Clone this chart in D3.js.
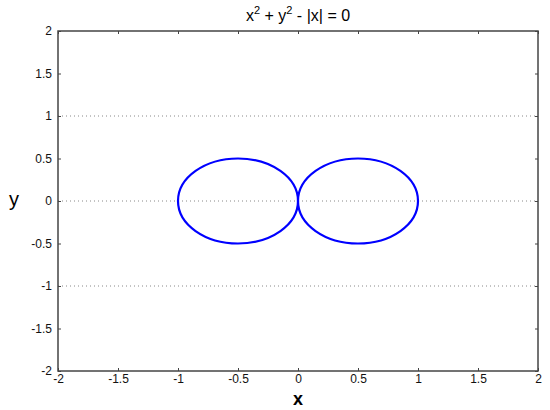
<!DOCTYPE html>
<html>
<head>
<meta charset="utf-8">
<script src="https://cdn.jsdelivr.net/npm/d3@7"></script>
<style>
  body { margin: 0; background: #fff; }
  text { font-family: "Liberation Sans", Arial, sans-serif; }
</style>
</head>
<body>
<svg id="chart" width="550" height="410"></svg>
<script>
// curve: x^2 + y^2 - |x| = 0  ->  two circles
const centersX = [-0.5, 0.5];
const centersY = [0, 0];
const radii = [0.5, 0.5];

const gridY = [1, 0, -1];
const tickVals = [-2, -1.5, -1, -0.5, 0, 0.5, 1, 1.5, 2];

const width = 550, height = 410;
const margin = { left: 58, top: 31, right: 12, bottom: 39 };

const svg = d3.select("#chart");

const x = d3.scaleLinear().domain([-2, 2]).range([margin.left, width - margin.right]);
const y = d3.scaleLinear().domain([-2, 2]).range([height - margin.bottom, margin.top]);

// dotted grid lines
svg.append("g")
    .selectAll("line")
    .data(gridY)
    .enter().append("line")
    .attr("x1", x(-2)).attr("x2", x(2))
    .attr("y1", d => y(d)).attr("y2", d => y(d))
    .attr("stroke", "#888")
    .attr("stroke-width", 1)
    .attr("stroke-dasharray", "1,3");

// circles
svg.append("g")
    .selectAll("ellipse")
    .data(centersX)
    .enter().append("ellipse")
    .attr("cx", d => x(d))
    .attr("cy", (d, i) => y(centersY[i]))
    .attr("rx", (d, i) => x(radii[i]) - x(0))
    .attr("ry", (d, i) => y(0) - y(radii[i]))
    .attr("fill", "none")
    .attr("stroke", "#0000ff")
    .attr("stroke-width", 2.2);

// axes (ticks inside)
const axisStyle = g => {
    g.select(".domain").remove();
    g.selectAll(".tick line").attr("stroke", "#444");
    g.selectAll(".tick text").attr("fill", "#111").style("font-size", "12px");
};

svg.append("g")
    .attr("transform", "translate(0," + y(-2) + ")")
    .call(d3.axisBottom(x).tickValues(tickVals).tickFormat(d => d).tickSizeInner(-3).tickSizeOuter(0).tickPadding(6))
    .call(axisStyle)
    .selectAll(".tick text").attr("y", 3);
svg.append("g")
    .attr("transform", "translate(0," + y(2) + ")")
    .call(d3.axisTop(x).tickValues(tickVals).tickFormat("").tickSizeInner(-3).tickSizeOuter(0))
    .call(axisStyle);
svg.append("g")
    .attr("transform", "translate(" + x(-2) + ",0)")
    .call(d3.axisLeft(y).tickValues(tickVals).tickFormat(d => d).tickSizeInner(-3).tickSizeOuter(0).tickPadding(6))
    .call(axisStyle);
svg.append("g")
    .attr("transform", "translate(" + x(2) + ",0)")
    .call(d3.axisRight(y).tickValues(tickVals).tickFormat("").tickSizeInner(-3).tickSizeOuter(0))
    .call(axisStyle);

// plot box
svg.append("rect")
    .attr("x", x(-2)).attr("y", y(2))
    .attr("width", x(2) - x(-2)).attr("height", y(-2) - y(2))
    .attr("fill", "none")
    .attr("stroke", "#444")
    .attr("stroke-width", 1.5);

// title
const title = svg.append("text")
    .attr("x", x(0)).attr("y", 21)
    .attr("text-anchor", "middle")
    .style("font-size", "16px");
title.append("tspan").text("x");
title.append("tspan").attr("dy", -7).style("font-size", "11px").text("2");
title.append("tspan").attr("dy", 7).text(" + y");
title.append("tspan").attr("dy", -7).style("font-size", "11px").text("2");
title.append("tspan").attr("dy", 7).text(" - |x| = 0");

// axis labels
svg.append("text")
    .attr("x", x(0)).attr("y", 405)
    .attr("text-anchor", "middle")
    .style("font-size", "18px")
    .style("font-weight", "bold")
    .text("x");
svg.append("text")
    .attr("x", 14).attr("y", y(0) + 5)
    .attr("text-anchor", "middle")
    .style("font-size", "20px")
    .text("y");
</script>
</body>
</html>
